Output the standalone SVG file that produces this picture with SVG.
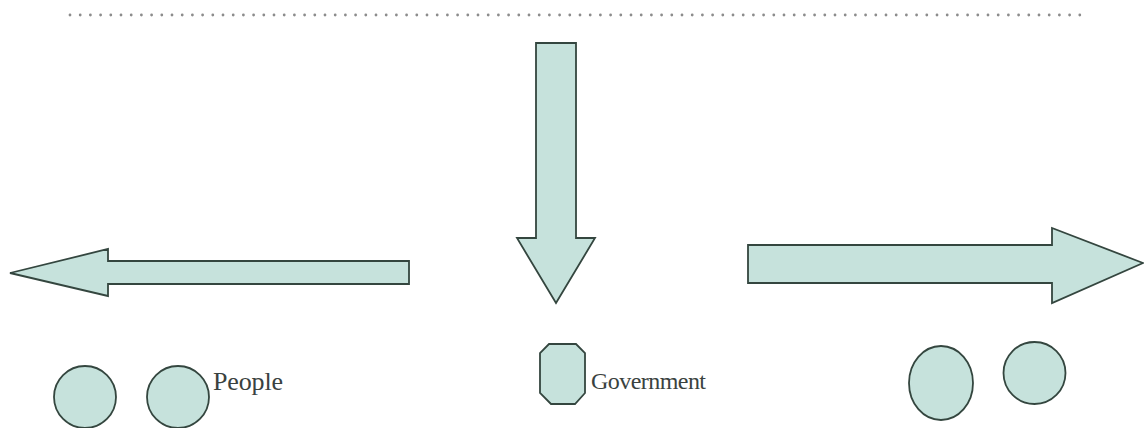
<svg xmlns="http://www.w3.org/2000/svg" width="1144" height="428" viewBox="0 0 1144 428">
  <style>
    .shape { fill: #c6e2dc; stroke: #34463f; stroke-width: 1.8; stroke-linejoin: miter; }
    .label { font-family: "Liberation Serif", "Times New Roman", serif; fill: #3a4240; }
    .rule { stroke: #8c8c8c; stroke-width: 2.8; stroke-linecap: round; stroke-dasharray: 0 10.2; fill: none; }
  </style>
  <rect width="1144" height="428" fill="#ffffff"/>

  <!-- dotted rule across the top -->
  <line class="rule" x1="70" y1="15" x2="1081" y2="15"/>

  <!-- block arrows -->
  <g id="connectors">
    <polygon class="shape" points="536,43 576,43 576,238 595,238 556,303 517,238 536,238"/>
    <polygon class="shape" points="409,261 409,284 108,284 108,296 10,273 108,249 108,261"/>
    <polygon class="shape" points="748,245 1052,245 1052,228 1143,263 1052,303 1052,283 748,283"/>
  </g>

  <!-- people -->
  <g id="people">
    <circle class="shape" cx="85" cy="397" r="31"/>
    <circle class="shape" cx="178" cy="397" r="31"/>
    <text class="label" x="213" y="390" font-size="26" textLength="70">People</text>
  </g>

  <!-- government -->
  <g id="government">
    <polygon class="shape" points="549,344 576,344 585,353 585,393 575,404 551,404 540,393 540,353"/>
    <text class="label" x="591" y="389" font-size="24" textLength="115">Government</text>
  </g>

  <!-- right-hand group -->
  <g id="others">
    <ellipse class="shape" cx="941" cy="383" rx="32" ry="37"/>
    <circle class="shape" cx="1034.5" cy="373" r="31"/>
  </g>
</svg>
